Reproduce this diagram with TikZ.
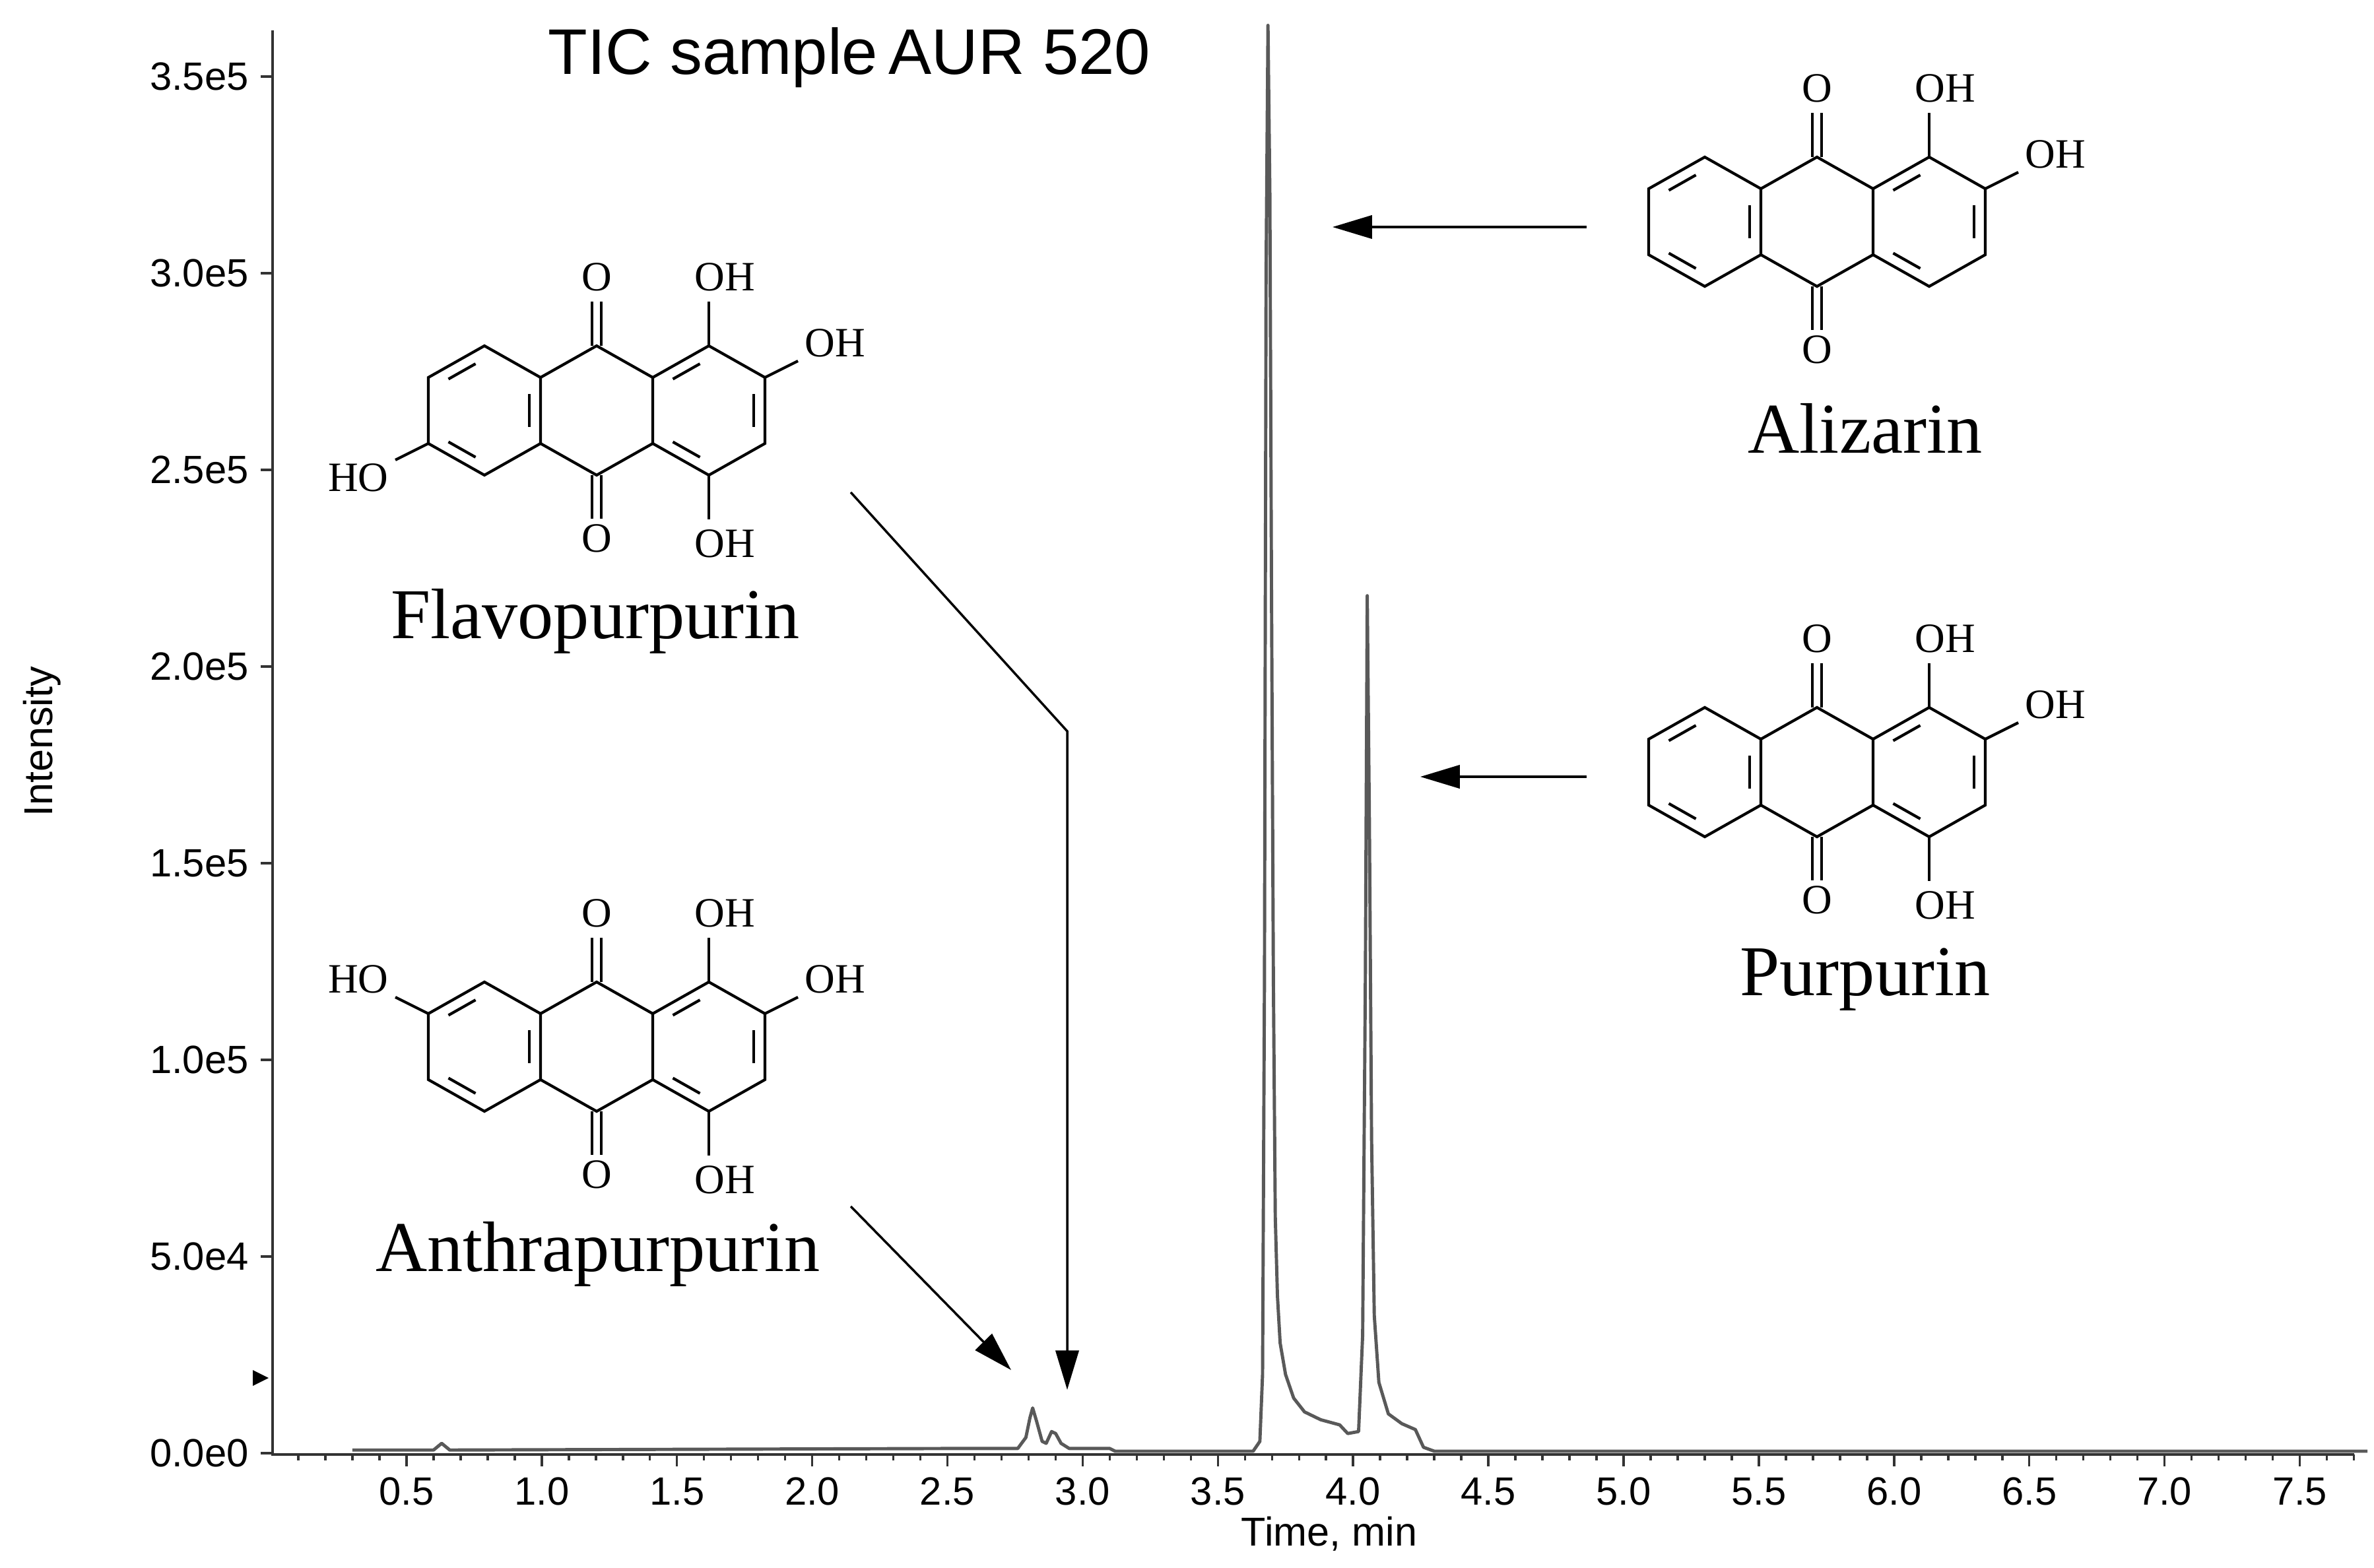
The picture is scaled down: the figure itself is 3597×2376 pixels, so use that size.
\documentclass[tikz,border=0pt]{standalone}
\usepackage{fontspec}
\setmainfont{Liberation Serif}
\newfontfamily\arial{Liberation Sans}
\usetikzlibrary{arrows.meta,calc}
\tikzset{
 bond/.style={line width=0.6pt,black},
 atom/.style={inner sep=0pt,font=\fontsize{9}{9}\selectfont},
 cname/.style={inner sep=0pt,font=\fontsize{15.4}{16}\selectfont},
 tick/.style={inner sep=0pt,font=\arial\fontsize{8.5}{9}\selectfont},
 axlab/.style={inner sep=0pt,font=\arial\fontsize{8.7}{9}\selectfont},
 pointer/.style={line width=0.5pt,-{Triangle[length=8.5pt,width=5pt]}},
 axisline/.style={line width=0.5pt,black!80}
}
\newcommand\innerb[3]{\draw[bond,shorten <=2.2pt,shorten >=2.2pt] ($(#1)!0.8!(#2)$)--($(#1)!0.8!(#3)$);}
\newcommand\aqcore{%
 \draw[bond] (-170,-98)--(-85,-50)--(-85,50)--(-170,98)--(-255,50)--(-255,-50)--cycle;
 \draw[bond] (-85,-50)--(0,-98)--(85,-50)--(85,50)--(0,98)--(-85,50);
 \draw[bond] (85,-50)--(170,-98)--(255,-50)--(255,50)--(170,98)--(85,50);
 \innerb{-170,0}{-170,-98}{-255,-50}
 \innerb{-170,0}{-255,50}{-170,98}
 \innerb{-170,0}{-85,-50}{-85,50}
 \innerb{170,0}{85,-50}{170,-98}
 \innerb{170,0}{255,-50}{255,50}
 \innerb{170,0}{85,50}{170,98}
 \draw[bond] (-7,-98)--(-7,-165) (7,-98)--(7,-165);
 \draw[bond] (-7,98)--(-7,164) (7,98)--(7,164);
 \node[atom] (otop) at (0,-202) {O};
 \node[atom] (obot) at (0,194) {O};
 \draw[bond] (170,-98)--(170,-165);
 \node[atom] (oh1) at (194,-202) {OH};
 \draw[bond] (255,-50)--(305,-75);
 \node[atom] (oh2) at (361,-102) {OH};
}
\newcommand\ohfour{\draw[bond] (170,98)--(170,165); \node[atom] (oh4) at (194,202) {OH};}
\begin{document}
\begin{tikzpicture}[x=0.05mm,y=-0.05mm]
\useasboundingbox (0,0) rectangle (3597,2376);
% axes
\draw[axisline] (413,46)--(413,2204)--(3567,2204);
\foreach \i/\l in {0/0.0e0,1/5.0e4,2/1.0e5,3/1.5e5,4/2.0e5,5/2.5e5,6/3.0e5,7/3.5e5}{
  \draw[axisline] (413,2202-298*\i)--(395,2202-298*\i);
  \node[tick,anchor=east] (yl\i) at (378,2202-298*\i) {\l};
}
\foreach \i in {1,...,77}{\draw[axisline] (411+40.98*\i,2204)--(411+40.98*\i,2213);}
\foreach \i/\l in {1/0.5,2/1.0,3/1.5,4/2.0,5/2.5,6/3.0,7/3.5,8/4.0,9/4.5,10/5.0,11/5.5,12/6.0,13/6.5,14/7.0,15/7.5}{
  \draw[axisline] (411+204.9*\i,2204)--(411+204.9*\i,2222);
  \node[tick] (xl\i) at (411+204.9*\i,2260) {\l};
}
\fill (383,2076)--(407,2088)--(383,2100)--cycle;
\node[axlab] (xt) at (2014,2324) {Time, min};
\node[axlab,rotate=90] (yt) at (64,1124) {Intensity};
\node[inner sep=0pt,font=\arial\fontsize{13.9}{14}\selectfont] (title) at (1287,87) {TIC sample\,AUR 520};
% trace
\begin{scope}[shift={(411,2202)},x=20.49mm,y=2.98mm]
\draw[line width=0.7pt,black!65,line join=round] plot coordinates {
(0.3,0.08)(0.6,0.08)(0.63,0.25)(0.66,0.08)(2.55,0.12)(2.76,0.12)(2.79,0.4)(2.805,0.9)(2.815,1.15)(2.83,0.8)(2.85,0.3)(2.865,0.25)(2.885,0.55)(2.9,0.5)(2.92,0.25)(2.95,0.12)(3.1,0.12)(3.12,0.05)(3.63,0.05)(3.655,0.3)(3.665,2)(3.672,12)(3.678,30)(3.685,36.3)(3.692,32)(3.698,22)(3.705,12)(3.712,6)(3.72,4)(3.73,2.8)(3.75,2.0)(3.78,1.4)(3.82,1.05)(3.88,0.85)(3.95,0.72)(3.98,0.5)(4.02,0.55)(4.035,3)(4.045,12)(4.052,21.8)(4.06,16)(4.068,8)(4.078,3.5)(4.095,1.8)(4.13,1.0)(4.18,0.75)(4.23,0.6)(4.26,0.15)(4.3,0.05)(7.75,0.05)};
\end{scope}
% structures
\begin{scope}[shift={(2753,336)}] \aqcore \end{scope}
\begin{scope}[shift={(2753,1170)}] \aqcore \ohfour \end{scope}
\begin{scope}[shift={(904,622)}] \aqcore \ohfour
 \draw[bond] (-255,50)--(-305,75); \node[atom] (ho) at (-361,102) {HO}; \end{scope}
\begin{scope}[shift={(904,1586)}] \aqcore \ohfour
 \draw[bond] (-255,-50)--(-305,-75); \node[atom] (ho) at (-361,-102) {HO}; \end{scope}
\node[cname] (aliz) at (2826,649) {Alizarin};
\node[cname] (purp) at (2826,1484) {Purpurin};
\node[cname] (flav) at (902,941) {Flavopurpurin};
\node[cname] (anth) at (906,1900) {Anthrapurpurin};
% arrows
\coordinate (a1s) at (2404,344); \coordinate (a1e) at (2019,344);
\coordinate (a2s) at (2404,1177); \coordinate (a2e) at (2152,1177);
\coordinate (f1) at (1289,746); \coordinate (f2) at (1617,1108); \coordinate (f3) at (1617,2106);
\coordinate (n1) at (1289,1828); \coordinate (n2) at (1532,2076);
\draw[pointer] (a1s)--(a1e);
\draw[pointer] (a2s)--(a2e);
\draw[pointer] (f1)--(f2)--(f3);
\draw[pointer] (n1)--(n2);
\end{tikzpicture}
\end{document}
